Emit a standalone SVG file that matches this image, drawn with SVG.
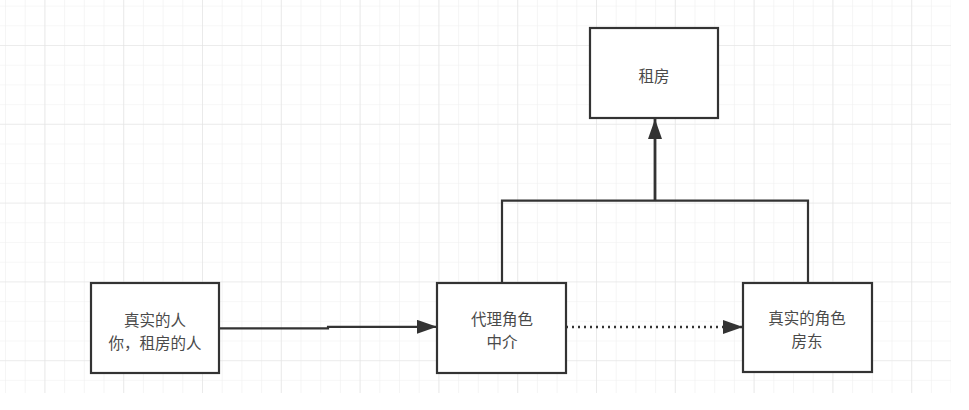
<svg xmlns="http://www.w3.org/2000/svg" width="969" height="410" viewBox="0 0 969 410">
  <style>
    .node rect { fill: #ffffff; stroke: #333333; stroke-width: 2.2; }
    .node text { font-family: "Noto Sans CJK SC", "Noto Sans", sans-serif; font-size: 15.5px; fill: #4a4a4a; text-anchor: middle; dominant-baseline: central; }
    .edge { fill: none; stroke: #333333; stroke-width: 2.2; }
    .thick { stroke-width: 2.8; }
    .dotted { stroke-dasharray: 2 4; stroke-width: 2.4; }
  </style>
  <defs>
    <pattern id="minor" patternUnits="userSpaceOnUse" x="5" y="5.6" width="19.7" height="19.7">
      <path d="M0 0 V19.7 M0 0 H19.7" fill="none" stroke="#efefef" stroke-width="1.2"/>
    </pattern>
    <pattern id="major" patternUnits="userSpaceOnUse" x="44.4" y="45" width="78.8" height="78.8">
      <path d="M0 0 V78.8 M0 0 H78.8" fill="none" stroke="#e2e2e2" stroke-width="1.2"/>
    </pattern>
    <marker id="arrow" viewBox="0 0 20 14" refX="20" refY="7" markerWidth="20" markerHeight="14" markerUnits="userSpaceOnUse" orient="auto">
      <path d="M0 0 L20 7 L0 14 Z" fill="#333333"/>
    </marker>
  </defs>
  <rect width="969" height="410" fill="#ffffff"/>
  <rect x="0" y="0" width="951" height="393" fill="url(#minor)"/>
  <rect x="0" y="0" width="951" height="393" fill="url(#major)"/>

  <g id="connectors">
    <path class="edge" d="M219 328.3 H328 V326.8 H437" marker-end="url(#arrow)"/>
    <path class="edge dotted" d="M566 327 H743" marker-end="url(#arrow)"/>
    <path class="edge" d="M502 283 V200.7 H808 V283"/>
    <path class="edge thick" d="M655 200.7 V119" marker-end="url(#arrow)"/>
  </g>

  <g id="node-zufang" class="node">
    <rect x="590" y="28" width="128" height="90"/>
    <text x="654" y="75">租房</text>
  </g>
  <g id="node-real-person" class="node">
    <rect x="91" y="283" width="128" height="90"/>
    <text x="155" y="319">真实的人</text>
    <text x="155" y="342">你，租房的人</text>
  </g>
  <g id="node-proxy" class="node">
    <rect x="437" y="283" width="129" height="90"/>
    <text x="502" y="318">代理角色</text>
    <text x="502" y="341">中介</text>
  </g>
  <g id="node-real-role" class="node">
    <rect x="743" y="283" width="129" height="89"/>
    <text x="807" y="317">真实的角色</text>
    <text x="807" y="340">房东</text>
  </g>
</svg>
